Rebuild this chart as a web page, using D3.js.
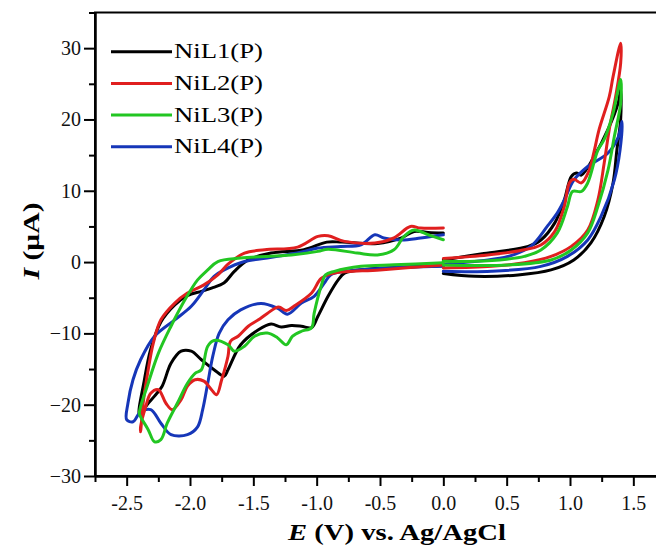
<!DOCTYPE html>
<html>
<head>
<meta charset="utf-8">
<script src="https://cdn.jsdelivr.net/npm/d3@7"></script>
<style>
    body { margin: 0; background: #fff; }
    svg { display: block; font-family: "Liberation Serif", "Times New Roman", serif; }
</style>
</head>
<body>
<div id="chart"></div>
<script>
// CV scans, points are [E (V), I (uA)]
// negative window: 0 -> -2.4 V -> 0, positive window: 0 -> 1.4 V -> 0
const nil1Negative = [
    [0, -0.5], [-0.3, -0.7], [-0.6, -1.0], [-0.78, -1.55], [-0.83, -2.5], [-0.91, -4.8],
    [-0.99, -7.6], [-1.04, -9.2], [-1.12, -9.0], [-1.20, -8.9], [-1.28, -9.1], [-1.36, -8.7],
    [-1.46, -9.5], [-1.60, -11.6], [-1.70, -15.1], [-1.73, -16.0], [-1.81, -15.1], [-1.91, -13.7],
    [-1.99, -12.5], [-2.07, -12.5], [-2.15, -14.2], [-2.22, -17.4], [-2.28, -18.8], [-2.33, -19.8],
    [-2.40, -21.4], [-2.36, -16.5], [-2.31, -12.2], [-2.23, -8.4], [-2.12, -6.0], [-2.02, -4.7],
    [-1.91, -4.1], [-1.83, -3.65], [-1.73, -2.9], [-1.65, -1.3], [-1.54, 0.3], [-1.36, 1.26],
    [-1.10, 1.73], [-0.92, 2.8], [-0.80, 2.8], [-0.52, 2.6], [-0.33, 3.4], [-0.23, 4.3],
    [-0.12, 4.15], [0, 4.07]
];
const nil1Positive = [
    [0, 0.3], [0.32, 1.2], [0.67, 2.2], [0.77, 3.1], [0.88, 5.5], [0.955, 8.7], [1.01, 12.0],
    [1.05, 12.5], [1.09, 12.2], [1.19, 14.8], [1.30, 18.6], [1.38, 22.3], [1.40, 24.2],
    [1.40, 20.0], [1.37, 15.7], [1.34, 11.1], [1.27, 6.4], [1.165, 2.7], [1.03, 0.3],
    [0.85, -1.1], [0.59, -1.8], [0.25, -2.0], [0, -1.6]
];
const nil2Negative = [
    [0, -0.4], [-0.5, -1.1], [-0.86, -1.55], [-0.965, -2.3], [-1.04, -4.35], [-1.18, -6.2],
    [-1.24, -6.8], [-1.30, -6.3], [-1.39, -7.2], [-1.46, -8.1], [-1.54, -9.0], [-1.62, -10.4],
    [-1.68, -11.1], [-1.70, -13.2], [-1.75, -16.5], [-1.79, -18.6], [-1.83, -17.9], [-1.89, -16.7],
    [-1.96, -16.5], [-2.02, -17.4], [-2.07, -19.3], [-2.14, -20.7], [-2.19, -19.8], [-2.25, -17.9],
    [-2.31, -18.4], [-2.35, -20.3], [-2.39, -23.1], [-2.39, -23.8], [-2.37, -19.8], [-2.33, -15.1],
    [-2.29, -11.4], [-2.23, -8.1], [-2.12, -5.75], [-2.02, -4.35], [-1.89, -3.2], [-1.78, -1.8],
    [-1.70, -0.3], [-1.57, 1.26], [-1.41, 1.73], [-1.15, 2.1], [-0.99, 3.6], [-0.91, 3.7],
    [-0.78, 2.9], [-0.54, 2.67], [-0.39, 3.4], [-0.26, 5.0], [-0.18, 4.77], [0, 4.77]
];
const nil2Positive = [
    [0, 0.5], [0.35, 1.0], [0.6, 1.6], [0.77, 2.4], [0.88, 4.3], [0.955, 7.8], [0.995, 11.1],
    [1.03, 11.6], [1.09, 11.1], [1.15, 12.8], [1.19, 15.5], [1.23, 18.6], [1.31, 23.2],
    [1.34, 26.0], [1.40, 30.7], [1.40, 27.9], [1.36, 23.2], [1.31, 18.6], [1.27, 13.9],
    [1.22, 8.7], [1.14, 4.5], [1.01, 2.2], [0.85, 0.8], [0.64, -0.1], [0.38, -0.6], [0, -0.84]
];
const nil3Negative = [
    [0, -0.1], [-0.39, -0.38], [-0.65, -0.6], [-0.86, -1.3], [-0.93, -1.8], [-0.965, -3.4],
    [-1.02, -7.2], [-1.04, -9.2], [-1.12, -9.7], [-1.19, -10.4], [-1.24, -11.6], [-1.31, -10.6],
    [-1.39, -9.96], [-1.49, -10.4], [-1.57, -11.8], [-1.65, -12.5], [-1.70, -11.6], [-1.81, -11.0],
    [-1.86, -11.8], [-1.91, -15.1], [-1.96, -15.6], [-2.02, -17.0], [-2.10, -19.8], [-2.18, -22.6],
    [-2.23, -24.9], [-2.28, -25.2], [-2.33, -23.5], [-2.39, -21.7], [-2.40, -21.2], [-2.33, -17.0],
    [-2.25, -12.8], [-2.15, -9.0], [-2.04, -5.3], [-1.94, -2.5], [-1.86, -1.1], [-1.78, 0.08],
    [-1.6, 0.56], [-1.20, 1.0], [-0.99, 1.5], [-0.91, 1.8], [-0.68, 1.26], [-0.52, 1.0],
    [-0.39, 1.73], [-0.31, 3.6], [-0.23, 4.5], [-0.12, 3.83], [0, 3.13]
];
const nil3Positive = [
    [0, 0.1], [0.25, 0.1], [0.5, 0.4], [0.64, 0.8], [0.77, 1.7], [0.90, 4.1], [0.98, 7.8],
    [1.02, 9.9], [1.09, 9.9], [1.14, 11.1], [1.22, 15.7], [1.27, 17.2], [1.34, 20.9],
    [1.40, 25.6], [1.40, 22.3], [1.35, 17.6], [1.30, 12.9], [1.22, 7.8], [1.14, 4.1],
    [1.01, 1.7], [0.85, 0.3], [0.51, -0.4], [0, -0.4]
];
const nil4Negative = [
    [0, -0.6], [-0.5, -0.9], [-0.78, -1.3], [-0.89, -1.8], [-0.94, -2.95], [-1.02, -4.8],
    [-1.12, -5.75], [-1.23, -7.3], [-1.31, -6.45], [-1.44, -5.8], [-1.60, -6.7], [-1.70, -8.1],
    [-1.77, -10.0], [-1.82, -13.2], [-1.86, -17.0], [-1.90, -20.7], [-1.94, -23.1], [-2.02, -24.2],
    [-2.15, -24.2], [-2.23, -22.6], [-2.31, -20.7], [-2.39, -21.0], [-2.45, -22.4], [-2.50, -22.1],
    [-2.49, -19.8], [-2.45, -16.5], [-2.39, -13.7], [-2.28, -10.4], [-2.12, -8.1], [-1.99, -6.2],
    [-1.89, -3.9], [-1.81, -2.0], [-1.73, -1.1], [-1.57, 0.08], [-1.39, 0.56], [-1.10, 1.5],
    [-0.99, 1.96], [-0.81, 2.2], [-0.65, 2.43], [-0.54, 3.83], [-0.47, 3.37], [-0.33, 3.1],
    [-0.18, 3.37], [0, 3.83]
];
const nil4Positive = [
    [0, -0.3], [0.3, 0.2], [0.51, 0.78], [0.69, 2.2], [0.82, 5.0], [0.90, 6.9], [0.955, 8.7],
    [1.03, 11.5], [1.14, 13.4], [1.30, 15.3], [1.38, 17.5], [1.41, 19.7], [1.395, 15.7],
    [1.35, 11.5], [1.245, 6.4], [1.14, 3.1], [0.98, 0.8], [0.77, -0.6], [0.38, -1.3], [0, -1.3]
];

const seriesNames = ["NiL1(P)", "NiL2(P)", "NiL3(P)", "NiL4(P)"];
const seriesColors = ["#000000", "#e01f1f", "#22c622", "#1636b8"];
const seriesScans = [
    [nil1Negative, nil1Positive],
    [nil2Negative, nil2Positive],
    [nil3Negative, nil3Positive],
    [nil4Negative, nil4Positive]
];
const drawOrder = [0, 3, 1, 2];

const xMajorTicks = [-2.5, -2.0, -1.5, -1.0, -0.5, 0.0, 0.5, 1.0, 1.5];
const xMinorTicks = [-2.75, -2.25, -1.75, -1.25, -0.75, -0.25, 0.25, 0.75, 1.25, 1.75];
const yMajorTicks = [-30, -20, -10, 0, 10, 20, 30];
const yMinorTicks = [-25, -15, -5, 5, 15, 25, 35];

const width = 656, height = 551;

var svg = d3.select("#chart").append("svg")
    .attr("width", width)
    .attr("height", height);

var x = d3.scaleLinear().domain([-2.75, 1.75]).range([95, 665]);
var y = d3.scaleLinear().domain([-30, 35]).range([476, 12.5]);

function drawAxes()
{
    // frame (right edge falls outside the window, like the original crop)
    svg.append("rect")
        .attr("x", x(-2.75))
        .attr("y", y(35))
        .attr("width", x(1.75) - x(-2.75))
        .attr("height", y(-30) - y(35))
        .attr("fill", "none")
        .attr("stroke", "#000")
        .attr("stroke-width", 2);

    var xAxis = svg.append("g")
        .attr("transform", "translate(0," + y(-30) + ")")
        .call(d3.axisBottom(x)
            .tickValues(xMajorTicks)
            .tickFormat(d => d.toFixed(1))
            .tickSize(10)
            .tickSizeOuter(0)
            .tickPadding(10));

    svg.append("g")
        .attr("transform", "translate(0," + y(-30) + ")")
        .call(d3.axisBottom(x)
            .tickValues(xMinorTicks)
            .tickFormat("")
            .tickSize(6)
            .tickSizeOuter(0));

    var yAxis = svg.append("g")
        .attr("transform", "translate(" + x(-2.75) + ",0)")
        .call(d3.axisLeft(y)
            .tickValues(yMajorTicks)
            .tickSize(11)
            .tickSizeOuter(0)
            .tickPadding(3));

    svg.append("g")
        .attr("transform", "translate(" + x(-2.75) + ",0)")
        .call(d3.axisLeft(y)
            .tickValues(yMinorTicks)
            .tickFormat("")
            .tickSize(6)
            .tickSizeOuter(0));

    svg.selectAll(".domain").attr("stroke-width", 2);
    svg.selectAll(".tick line").attr("stroke", "#000").attr("stroke-width", 2);
    svg.selectAll(".tick text")
        .attr("fill", "#111")
        .style("font-family", "'Liberation Serif', serif")
        .style("font-size", "20px");

    // axis titles
    var xTitle = svg.append("text")
        .attr("x", 397)
        .attr("y", 540)
        .attr("text-anchor", "middle")
        .attr("textLength", 218)
        .attr("lengthAdjust", "spacingAndGlyphs")
        .style("font-size", "23px")
        .style("font-weight", "bold");
    xTitle.append("tspan").style("font-style", "italic").text("E");
    xTitle.append("tspan").text(" (V) vs. Ag/AgCl");

    var yTitle = svg.append("text")
        .attr("transform", "translate(39,241) rotate(-90)")
        .attr("text-anchor", "middle")
        .attr("textLength", 77)
        .attr("lengthAdjust", "spacingAndGlyphs")
        .style("font-size", "23px")
        .style("font-weight", "bold");
    yTitle.append("tspan").style("font-style", "italic").text("I");
    yTitle.append("tspan").text(" (\u03bcA)");
}

function drawCurves()
{
    var line = d3.line()
        .x(d => x(d[0]))
        .y(d => y(d[1]))
        .curve(d3.curveCatmullRom.alpha(0.5));

    drawOrder.forEach(i => {
        seriesScans[i].forEach(scan => {
            svg.append("path")
                .datum(scan)
                .attr("d", line)
                .attr("fill", "none")
                .attr("stroke", seriesColors[i])
                .attr("stroke-width", 3)
                .attr("stroke-linejoin", "round")
                .attr("stroke-linecap", "round");
        });
    });
}

function drawLegend()
{
    var legend = svg.append("g");
    seriesNames.forEach((name, i) => {
        var ly = 51.7 + i * 31.7;
        legend.append("line")
            .attr("x1", 111)
            .attr("x2", 172)
            .attr("y1", ly)
            .attr("y2", ly)
            .attr("stroke", seriesColors[i])
            .attr("stroke-width", 3);
        legend.append("text")
            .attr("x", 174)
            .attr("y", ly + 6.6)
            .attr("textLength", 89)
            .attr("lengthAdjust", "spacingAndGlyphs")
            .style("font-size", "21px")
            .text(name);
    });
}

drawAxes();
drawCurves();
drawLegend();
</script>
</body>
</html>
